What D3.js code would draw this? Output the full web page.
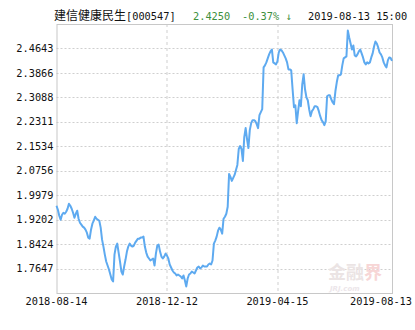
<!DOCTYPE html>
<html>
<head>
<meta charset="utf-8">
<script src="https://cdn.jsdelivr.net/npm/d3@7"></script>
<style>
  body { margin: 0; background: #fff; }
  #chart { width: 415px; height: 330px; }
</style>
</head>
<body>
<div id="chart"></div>
<script>

// fund info shown in the header
var fundName = "建信健康民生";
var fundCode = "[000547]";
var lastValue = "2.4250";
var lastChange = "-0.37% ↓";
var lastTime = "2019-08-13 15:00";

// daily net values, one per trading day 2018-08-14 .. 2019-08-13
var values = [
  1.9642,1.9516,1.9326,1.9199,1.9357,1.9421,1.9389,1.9452,1.9547,1.9706,
  1.9642,1.9547,1.9421,1.9262,1.9389,1.9484,1.9231,1.9104,1.9041,1.8978,
  1.8946,1.8883,1.8788,1.8630,1.8598,1.8883,1.9073,1.9168,1.9294,1.9231,
  1.9199,1.9168,1.8946,1.8566,1.8345,1.8091,1.7870,1.7743,1.7617,1.7458,
  1.7300,1.7237,1.8091,1.8345,1.8440,1.8155,1.7870,1.7553,1.7458,1.7712,
  1.7933,1.8186,1.8345,1.8440,1.8376,1.8345,1.8376,1.8471,1.8535,1.8598,
  1.8598,1.8630,1.8630,1.8661,1.8345,1.8155,1.8028,1.7965,1.7902,1.7933,
  1.7965,1.7743,1.8123,1.8376,1.8408,1.8186,1.8028,1.7965,1.8028,1.8123,
  1.8060,1.7965,1.7775,1.7680,1.7585,1.7522,1.7490,1.7427,1.7458,1.7427,
  1.7395,1.7332,1.7427,1.7269,1.7079,1.7332,1.7458,1.7490,1.7553,1.7522,
  1.7490,1.7585,1.7680,1.7712,1.7648,1.7680,1.7743,1.7712,1.7712,1.7712,
  1.7775,1.7807,1.7775,1.7902,1.8440,1.8535,1.8661,1.8851,1.8946,1.8883,
  1.8756,1.9231,1.9294,1.9389,1.9611,2.0655,2.0560,2.0434,2.0529,2.0623,
  2.0782,2.0940,2.1446,2.1541,2.1446,2.1067,2.1826,2.2111,2.1763,2.1478,
  2.2048,2.2269,2.2364,2.2364,2.2333,2.2238,2.2111,2.2522,2.2617,2.2712,
  2.4042,2.4105,2.4200,2.4327,2.4453,2.4548,2.4611,2.4200,2.4168,2.4137,
  2.4232,2.4516,2.4611,2.4580,2.4516,2.4421,2.4327,2.4200,2.3978,2.3978,
  2.3947,2.3345,2.2776,2.2839,2.2269,2.2649,2.2997,2.2807,2.3504,2.3820,
  2.3345,2.3092,2.2997,2.2712,2.2491,2.2649,2.2712,2.2807,2.2807,2.2776,
  2.2649,2.2491,2.2364,2.2301,2.2206,2.2333,2.3124,2.3155,2.3155,2.3029,
  2.2934,2.2871,2.3282,2.3567,2.3788,2.3788,2.3820,2.4105,2.4327,2.4358,
  2.4390,2.5213,2.4991,2.4801,2.4611,2.4738,2.4421,2.4390,2.4453,2.4548,
  2.4611,2.4485,2.4358,2.4200,2.4137,2.4200,2.4168,2.4200,2.4358,2.4485,
  2.4706,2.4865,2.4801,2.4675,2.4516,2.4453,2.4358,2.4200,2.4105,2.4042,
  2.4263,2.4358,2.4340,2.4250
];

// y tick labels
var yTicks = [1.7647, 1.8424, 1.9202, 1.9979, 2.0756, 2.1534, 2.2311, 2.3088, 2.3866, 2.4643];

// x tick labels and the trading day index they sit on
var xLabels = ["2018-08-14", "2018-12-12", "2019-04-15", "2019-08-13"];
var xIndex = [0, 80, 160, 243];

var W = 415, H = 330;
var margin = {top: 24, right: 23, bottom: 37, left: 56.5};
var width = W - margin.left - margin.right,
    height = H - margin.top - margin.bottom;

var mono = "'DejaVu Sans Mono', monospace";

var svg = d3.select("#chart")
  .append("svg")
  .attr("width", W)
  .attr("height", H);

var g = svg.append("g")
  .attr("transform", "translate(" + margin.left + "," + margin.top + ")");

// x by trading day index
var x = d3.scaleLinear()
  .domain([0, values.length - 1])
  .range([0, width]);

// one tick step of padding above and below
var step = (yTicks[yTicks.length - 1] - yTicks[0]) / (yTicks.length - 1);
var y = d3.scaleLinear()
  .domain([yTicks[0] - step, yTicks[yTicks.length - 1] + step])
  .range([height, 0]);

// horizontal dashed grid
g.append("g")
  .selectAll("line")
  .data(yTicks)
  .enter()
  .append("line")
  .attr("x1", 0)
  .attr("x2", width)
  .attr("y1", d => Math.round(y(d)) + 0.5)
  .attr("y2", d => Math.round(y(d)) + 0.5)
  .attr("stroke", "#cfcfcf")
  .attr("stroke-dasharray", "2,2");

// vertical dashed grid (inner dates only)
g.append("g")
  .selectAll("line")
  .data(xIndex.slice(1, 3))
  .enter()
  .append("line")
  .attr("x1", d => Math.round(x(d)) + 0.5)
  .attr("x2", d => Math.round(x(d)) + 0.5)
  .attr("y1", 0)
  .attr("y2", height)
  .attr("stroke", "#cfcfcf")
  .attr("stroke-dasharray", "3,3");

// frame
g.append("rect")
  .attr("x", 0.5)
  .attr("y", 0.5)
  .attr("width", width)
  .attr("height", height)
  .attr("fill", "none")
  .attr("stroke", "#c8c8c8");

// watermark in the corner
var wm = g.append("g")
  .attr("transform", "translate(" + (width - 64) + "," + (height - 14) + ")");
var wmText = wm.append("text")
  .attr("font-family", "'Noto Sans CJK SC'")
  .attr("font-size", "18px")
  .attr("font-weight", "bold");
wmText.append("tspan").attr("fill", "#ebe4e4").text("金融");
wmText.append("tspan").attr("fill", "#f7d6d6").text("界");
wm.append("text")
  .attr("x", 2)
  .attr("y", 12)
  .attr("font-family", "'DejaVu Sans'")
  .attr("font-size", "7px")
  .attr("font-style", "italic")
  .attr("font-weight", "bold")
  .attr("fill", "#ece6ea")
  .text("JRJ.com");

// y labels
g.append("g")
  .selectAll("text")
  .data(yTicks)
  .enter()
  .append("text")
  .attr("x", -3)
  .attr("y", d => y(d))
  .attr("dy", "0.35em")
  .attr("text-anchor", "end")
  .attr("font-family", mono)
  .attr("font-size", "10.3px")
  .attr("fill", "#111")
  .text(d => d.toFixed(4));

// x labels, the last one kept inside the page
g.append("g")
  .selectAll("text")
  .data(xLabels)
  .enter()
  .append("text")
  .attr("x", (d, i) => i == xLabels.length - 1 ? x(xIndex[i]) - 11 : x(xIndex[i]))
  .attr("y", height + 12)
  .attr("text-anchor", "middle")
  .attr("font-family", mono)
  .attr("font-size", "10.3px")
  .attr("fill", "#111")
  .text(d => d);

// the net value line
var line = d3.line()
  .x((d, i) => x(i))
  .y(d => y(d));

g.append("path")
  .datum(values)
  .attr("fill", "none")
  .attr("stroke", "#5eaaf0")
  .attr("stroke-width", 2)
  .attr("stroke-linejoin", "round")
  .attr("d", line);

// header
var head = svg.append("text")
  .attr("x", 54)
  .attr("y", 20)
  .attr("font-size", "12px");
head.append("tspan")
  .attr("font-family", "'Noto Sans CJK SC'")
  .attr("fill", "#111")
  .text(fundName);
head.append("tspan")
  .attr("font-family", mono)
  .attr("font-size", "10.3px")
  .attr("fill", "#111")
  .text(fundCode);

svg.append("text")
  .attr("x", 193)
  .attr("y", 20)
  .attr("font-family", mono)
  .attr("font-size", "10.3px")
  .attr("fill", "#3d8f3d")
  .text(lastValue);

svg.append("text")
  .attr("x", 242)
  .attr("y", 20)
  .attr("font-family", mono)
  .attr("font-size", "10.3px")
  .attr("fill", "#3d8f3d")
  .text(lastChange);

svg.append("text")
  .attr("x", 308)
  .attr("y", 20)
  .attr("font-family", mono)
  .attr("font-size", "10.3px")
  .attr("fill", "#111")
  .text(lastTime);

</script>
</body>
</html>
